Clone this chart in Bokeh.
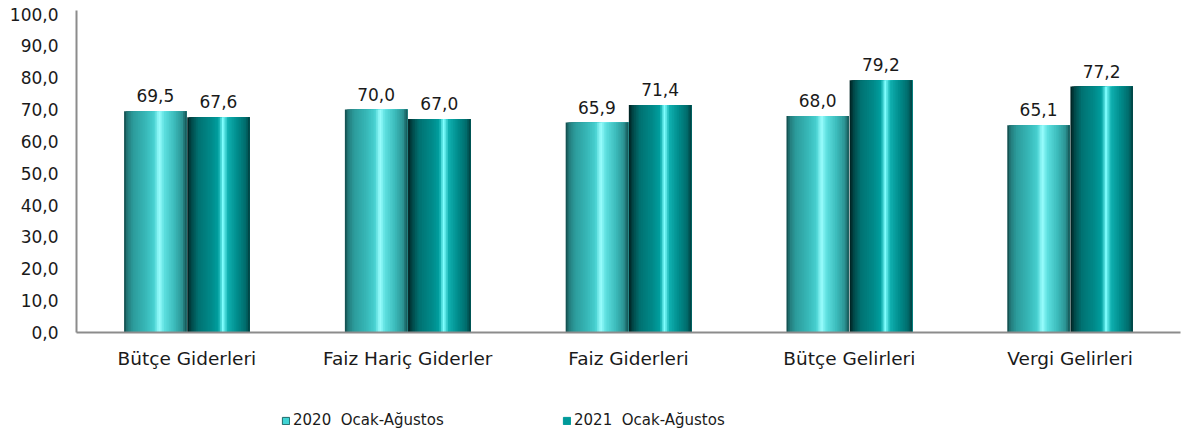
from bokeh.plotting import figure
from bokeh.models import ColumnDataSource, FactorRange, FixedTicker, Legend, LegendItem, LabelSet, Range1d
from bokeh.core.properties import value
from bokeh.layouts import column
from bokeh.transform import dodge
from bokeh.embed import file_html
from bokeh.resources import INLINE

# ---- data ----
categories = ["Bütçe Giderleri", "Faiz Hariç Giderler", "Faiz Giderleri", "Bütçe Gelirleri", "Vergi Gelirleri"]
series_names = ["2020  Ocak-Ağustos", "2021  Ocak-Ağustos"]
values_2020 = [69.5, 70.0, 65.9, 68.0, 65.1]
values_2021 = [67.6, 67.0, 71.4, 79.2, 77.2]
y_ticks = [0, 10, 20, 30, 40, 50, 60, 70, 80, 90, 100]
y_tick_labels = ["0,0", "10,0", "20,0", "30,0", "40,0", "50,0", "60,0", "70,0", "80,0", "90,0", "100,0"]

FONT = "DejaVu Sans"
TXT = "#1a1a1a"

def fmt(v):
    return f"{v:.1f}".replace(".", ",")

src = ColumnDataSource(dict(
    cat=categories,
    v2020=values_2020,
    v2021=values_2021,
    l2020=[fmt(v) for v in values_2020],
    l2021=[fmt(v) for v in values_2021],
))

p = figure(x_range=FactorRange(*categories), y_range=(0, 101.1),
           width=1198, height=380, output_backend="svg", toolbar_location=None,
           min_border_left=76, min_border_right=18, min_border_top=10, min_border_bottom=48)
p.outline_line_color = None
p.grid.grid_line_color = None
p.background_fill_color = "white"
p.border_fill_color = "white"

# ---- cylinder shading (styling) ----
def hex2rgb(h):
    h = h.lstrip("#")
    return tuple(int(h[i:i + 2], 16) for i in (0, 2, 4))

def interp(stops, t):
    for (t0, c0), (t1, c1) in zip(stops, stops[1:]):
        if t0 <= t <= t1:
            f = 0 if t1 == t0 else (t - t0) / (t1 - t0)
            a, b = hex2rgb(c0), hex2rgb(c1)
            return "#%02x%02x%02x" % tuple(round(a[i] + (b[i] - a[i]) * f) for i in range(3))
    return stops[-1][1]

stops_2020 = [(0.0, "#0e4444"), (0.05, "#237a7a"), (0.15, "#2c9c9c"), (0.35, "#38b8b8"),
              (0.48, "#48d0d0"), (0.56, "#9cffff"), (0.64, "#5ee0e0"), (0.8, "#3cbcbc"),
              (0.93, "#2c9494"), (1.0, "#145252")]
stops_2021 = [(0.0, "#001c1c"), (0.06, "#004646"), (0.18, "#007272"), (0.38, "#008a8a"),
              (0.5, "#00a0a0"), (0.57, "#80ffff"), (0.65, "#10b0b0"), (0.8, "#008c8c"),
              (0.94, "#006a6a"), (1.0, "#003c3c")]

BAR_W = 0.283
OFF = 0.143
N = 36
sw = BAR_W / N
for col, center, stops in (("v2020", -OFF, stops_2020), ("v2021", OFF, stops_2021)):
    right = center + BAR_W / 2
    for k in range(N):
        t = (k + 0.5) / N
        left = center - BAR_W / 2 + sw * k
        p.vbar(x=dodge("cat", (left + right) / 2, range=p.x_range), top=col,
               width=right - left, bottom=0,
               source=src, fill_color=interp(stops, t), line_color=None)

# ---- value labels ----
for col, lab, center in (("v2020", "l2020", -OFF), ("v2021", "l2021", OFF)):
    ls = LabelSet(x=dodge("cat", center, range=p.x_range), y=col, text=lab, source=src,
                  text_align="center", text_baseline="alphabetic", y_offset=9,
                  text_font=value(FONT), text_font_size=value("17px"), text_color=TXT)
    p.add_layout(ls)

# ---- axes ----
for ax in (p.xaxis[0], p.yaxis[0]):
    ax.axis_line_color = "#8c8c8c"
    ax.axis_line_width = 2
    ax.major_tick_line_color = None
    ax.minor_tick_line_color = None
    ax.major_tick_out = 0
    ax.major_tick_in = 0
    ax.minor_tick_out = 0
    ax.major_label_text_font = FONT
    ax.major_label_text_color = TXT
p.yaxis.major_label_text_font_size = "17px"
p.xaxis.major_label_text_font_size = "18.5px"
p.yaxis.ticker = FixedTicker(ticks=y_ticks)
p.yaxis.major_label_overrides = {t: l for t, l in zip(y_ticks, y_tick_labels)}
p.yaxis.major_label_standoff = 18
p.xaxis.major_label_standoff = 15

# ---- legend (separate strip below the chart; its frame aligns with the chart's frame) ----
pl = figure(width=1198, height=60, x_range=Range1d(0, 1), y_range=Range1d(0, 1),
            output_backend="svg", toolbar_location=None,
            x_axis_location=None, y_axis_location=None,
            min_border_left=0, min_border_right=0, min_border_top=0, min_border_bottom=0)
pl.grid.visible = False
pl.outline_line_color = None
r1 = pl.quad(left=[5], right=[6], bottom=[5], top=[6], fill_color="#40d4d4", line_color="#1f6a6a")
r2 = pl.quad(left=[5], right=[6], bottom=[5], top=[6], fill_color="#009a9a", line_color="#009a9a")
for r, name, xloc in ((r1, series_names[0], 205), (r2, series_names[1], 486)):
    lg = Legend(items=[LegendItem(label=name, renderers=[r])], location=(xloc, 10),
                orientation="horizontal", padding=0, margin=0, border_line_color=None,
                background_fill_alpha=0, glyph_width=9, glyph_height=9, label_standoff=3,
                label_height=20, label_text_font=FONT, label_text_font_size="15px",
                label_text_color=TXT)
    pl.add_layout(lg)

layout = column(p, pl, spacing=0)
open("out.html", "w").write(file_html(layout, INLINE))
